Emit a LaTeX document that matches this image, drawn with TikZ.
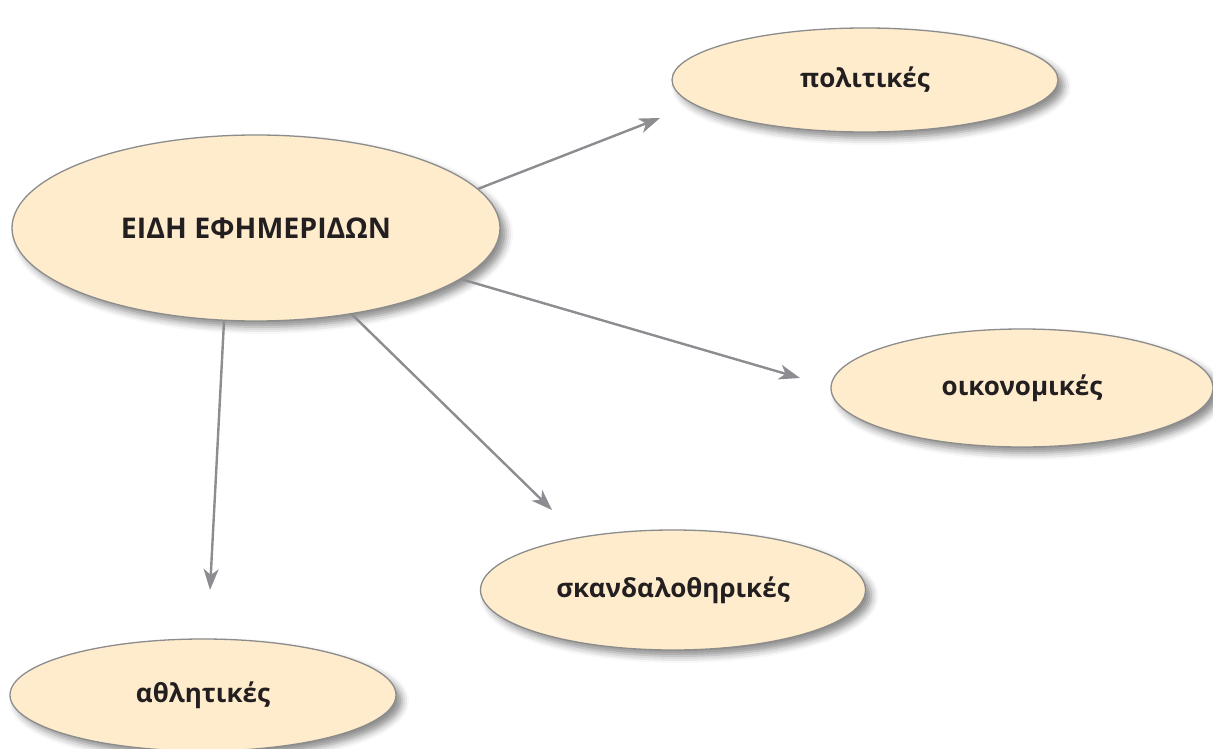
\documentclass[tikz,border=0pt]{standalone}
\usepackage{fontspec}
\setmainfont{Open Sans}
\usetikzlibrary{shapes.geometric,arrows.meta,shadows.blur}
\definecolor{bubblefill}{RGB}{254,236,205}
\definecolor{bubbleline}{RGB}{140,140,140}
\definecolor{arrowgray}{RGB}{140,140,145}
\definecolor{textdark}{RGB}{35,31,32}
\tikzset{
  bubble/.style={ellipse, draw=bubbleline, line width=1.3pt, fill=bubblefill, inner sep=0pt,
    text=textdark, font=\bfseries\fontsize{26}{30}\selectfont,
    blur shadow={shadow xshift=6pt, shadow yshift=-6pt, shadow blur radius=7pt, shadow opacity=45}},
  conn/.style={draw=arrowgray, line width=2.4pt, -{Stealth[length=21pt,width=15pt,inset=6pt]}}
}
\begin{document}
\begin{tikzpicture}[x=1pt,y=-1pt]
\useasboundingbox (0,0) rectangle (1213,749);
\node[bubble, minimum width=488pt, minimum height=186pt, font=\bfseries\fontsize{28.5}{32}\selectfont] (main) at (256,228) {ΕΙΔΗ ΕΦΗΜΕΡΙΔΩΝ};
\node[bubble, minimum width=386pt, minimum height=104pt] (pol) at (865,80) {πολιτικές};
\node[bubble, minimum width=382pt, minimum height=118pt] (oik) at (1022,388) {οικονομικές};
\node[bubble, minimum width=385pt, minimum height=120pt] (skan) at (673,590) {σκανδαλοθηρικές};
\node[bubble, minimum width=386pt, minimum height=112pt] (athl) at (203,695) {αθλητικές};
\coordinate (e1) at (660,118);
\coordinate (e2) at (800,378);
\coordinate (e3) at (552,510);
\coordinate (e4) at (210,590);
\draw[conn] (main.10) -- (e1);
\draw[conn] (main.-14.4) -- (e2);
\draw[conn] (main.-42) -- (e3);
\draw[conn] (main.251.2) -- (e4);
\end{tikzpicture}
\end{document}
